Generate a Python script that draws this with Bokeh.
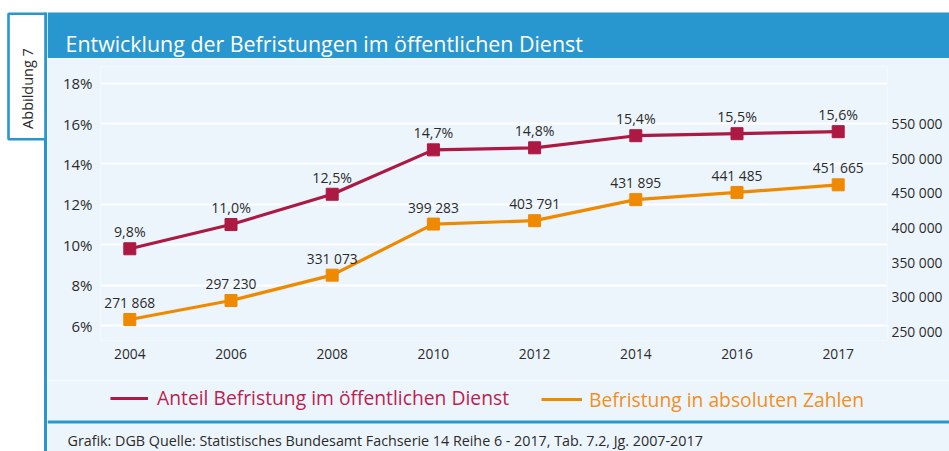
import math
from bokeh.plotting import figure
from bokeh.layouts import row, column
from bokeh.models import (Range1d, LinearAxis, FixedTicker, Label, ColumnDataSource,
                          Legend, LegendItem)
from bokeh.core.properties import value
from bokeh.embed import file_html
from bokeh.resources import INLINE

# ---------------- data ----------------
years = ["2004", "2006", "2008", "2010", "2012", "2014", "2016", "2017"]
anteil = [9.8, 11.0, 12.5, 14.7, 14.8, 15.4, 15.5, 15.6]
absolut = [271868, 297230, 331073, 399283, 403791, 431895, 441485, 451665]
left_ticks = [6, 8, 10, 12, 14, 16, 18]
right_ticks = [250000, 300000, 350000, 400000, 450000, 500000, 550000]
title_text = "Entwicklung der Befristungen im öffentlichen Dienst"
fig_label = "Abbildung 7"
legend_red = "Anteil Befristung im öffentlichen Dienst"
legend_orange = "Befristung in absoluten Zahlen"
footer_text = "Grafik: DGB Quelle: Statistisches Bundesamt Fachserie 14 Reihe 6 - 2017, Tab. 7.2, Jg. 2007-2017"

# ---------------- styles ----------------
FONT = "Open Sans"
BLUE = "#2897CF"
PANEL = "#EDF5FC"
RED = "#AD1942"
ORANGE = "#EF8A00"
RED_TXT = "#BA1F50"
ORANGE_TXT = "#F0901E"
DARK = "#2B2B2B"

PW, PH = 949, 451          # page size
LW = 47                    # width of left strip
CW = PW - LW               # width of right column
HH = 58                    # header height
CH = 322                   # chart height (58..380)
BH = PH - HH - CH          # bottom part height (380..451)
FL, FR, FT, FB = 100, 887, 66, 340   # chart frame edges in page pixels

X0, DX = 129.3, 101.2                # category index -> page x
P6, PPP = 325.0, 20.19               # percent axis
A0Y, A0V, AK = 319.0, 271868.0, 0.000749   # absolute series scale
R550, R250 = 123.0, 331.0            # right axis label positions
RK = (R250 - R550) / 300000.0


def deco_fig(width, height, x0, y0, bg):
    f = figure(width=width, height=height, x_range=Range1d(x0, x0 + width),
               y_range=Range1d(y0 + height, y0), output_backend="svg",
               toolbar_location=None, min_border=0, frame_align=False,
               x_axis_location=None, y_axis_location=None)
    f.grid.visible = False
    f.outline_line_color = None
    f.background_fill_color = bg
    f.border_fill_color = bg
    return f


# ---------------- left strip ----------------
left = deco_fig(LW, PH, 0, 0, "white")
left.quad(left=[43.5], right=[47], top=[12], bottom=[PH], fill_color=BLUE, line_color=None)
left.quad(left=[8], right=[45], top=[13.2], bottom=[138.8], fill_color="white",
          line_color=BLUE, line_width=2.6)
left.add_layout(Label(x=27, y=88, text=fig_label, angle=math.pi / 2,
                      text_font=FONT, text_font_size="14.5px", text_color=DARK,
                      text_baseline="middle", text_align="center"))

# ---------------- header ----------------
head = deco_fig(CW, HH, LW, 0, "white")
head.quad(left=[LW], right=[PW], top=[12], bottom=[HH], fill_color=BLUE, line_color=None)
head.add_layout(Label(x=65, y=43, text=title_text, text_font=FONT, text_font_size="21.4px",
                      text_color="white", text_baseline="alphabetic", text_align="left"))

# ---------------- chart ----------------
x_range = Range1d((FL - X0) / DX, (FR - X0) / DX)
y_range = Range1d(6 - (FB - P6) / PPP, 6 + (P6 - FT) / PPP)

p = figure(width=CW, height=CH, x_range=x_range, y_range=y_range,
           output_backend="svg", toolbar_location=None, frame_align=False,
           min_border_left=FL - LW, min_border_right=PW - FR,
           min_border_top=FT - HH, min_border_bottom=(HH + CH) - FB)
p.extra_y_ranges = {
    "abs": Range1d(A0V - (FB - A0Y) / AK, A0V + (A0Y - FT) / AK),
    "abslab": Range1d(250000 - (FB - R250) / RK, 550000 + (R550 - FT) / RK),
}
p.background_fill_color = PANEL
p.border_fill_color = PANEL
p.outline_line_color = None

xs = list(range(len(years)))
src = ColumnDataSource(dict(
    x=xs, anteil=anteil, absolut=absolut,
    anteil_lbl=[f"{v:.1f}%".replace(".", ",") for v in anteil],
    absolut_lbl=[f"{v:,}".replace(",", " ") for v in absolut],
))

p.line("x", "anteil", source=src, line_color=RED, line_width=3.2)
p.scatter("x", "anteil", source=src, marker="square", size=12, fill_color=RED, line_color=RED)
p.line("x", "absolut", source=src, line_color=ORANGE, line_width=3.2, y_range_name="abs")
p.scatter("x", "absolut", source=src, marker="square", size=12, fill_color=ORANGE,
          line_color=ORANGE, y_range_name="abs")

p.text("x", "anteil", text="anteil_lbl", source=src, text_align="center", text_baseline="middle",
       y_offset=-17, text_font=value(FONT), text_font_size="14.2px", text_color=DARK)
p.text("x", "absolut", text="absolut_lbl", source=src, text_align="center", text_baseline="middle",
       y_offset=-17, text_font=value(FONT), text_font_size="13.8px", text_color=DARK,
       y_range_name="abs")


def style_axis(ax, standoff, size):
    ax.axis_line_color = None
    ax.major_tick_line_color = None
    ax.minor_tick_line_color = None
    ax.major_tick_out = 0
    ax.major_tick_in = 0
    ax.minor_tick_out = 0
    ax.minor_tick_in = 0
    ax.major_label_standoff = standoff
    ax.major_label_text_font = FONT
    ax.major_label_text_font_size = size
    ax.major_label_text_color = DARK


yax = p.yaxis[0]
yax.ticker = FixedTicker(ticks=left_ticks)
yax.major_label_overrides = {t: f"{t}%" for t in left_ticks}
style_axis(yax, 8, "15px")

xax = p.xaxis[0]
xax.ticker = FixedTicker(ticks=xs)
xax.major_label_overrides = {i: y for i, y in enumerate(years)}
style_axis(xax, 8, "13.8px")

rax = LinearAxis(y_range_name="abslab", ticker=FixedTicker(ticks=right_ticks))
rax.major_label_overrides = {t: f"{t:,}".replace(",", " ") for t in right_ticks}
style_axis(rax, 4, "13.8px")
p.add_layout(rax, "right")

p.xgrid.grid_line_color = None
p.ygrid.ticker = FixedTicker(ticks=left_ticks)
p.ygrid.grid_line_color = "white"
p.ygrid.grid_line_width = 2

# ---------------- legend + footer ----------------
bot = deco_fig(CW, BH, LW, HH + CH, PANEL)
# legend sample renderers (placed outside the visible area; only their style is used)
r_sample = bot.line(x=[-50, -40], y=[0, 0], line_color=RED, line_width=3.2)
o_sample = bot.line(x=[-50, -40], y=[0, 0], line_color=ORANGE, line_width=3.2)
bot.quad(left=[LW], right=[PW], top=[420], bottom=[423], fill_color=BLUE, line_color=None)
bot.add_layout(Label(x=67, y=440, text=footer_text, text_font=FONT, text_font_size="14.3px",
                     text_color=DARK, text_baseline="middle", text_align="left"))

leg1 = Legend(items=[LegendItem(label=legend_red, renderers=[r_sample])],
              location=(110 - LW, BH - 31), glyph_width=38, glyph_height=20, label_height=20,
              label_standoff=9, padding=0, margin=0, border_line_color=None,
              background_fill_alpha=0, label_text_font=FONT, label_text_font_size="19.3px",
              label_text_color=RED_TXT, label_text_baseline="middle")
leg2 = Legend(items=[LegendItem(label=legend_orange, renderers=[o_sample])],
              location=(541 - LW, BH - 32.5), glyph_width=41, glyph_height=20, label_height=20,
              label_standoff=7, padding=0, margin=0, border_line_color=None,
              background_fill_alpha=0, label_text_font=FONT, label_text_font_size="19.3px",
              label_text_color=ORANGE_TXT, label_text_baseline="middle")
bot.add_layout(leg1, "center")
bot.add_layout(leg2, "center")

layout = row(left, column(head, p, bot, spacing=0), spacing=0)

open("out.html", "w").write(file_html(layout, INLINE))
